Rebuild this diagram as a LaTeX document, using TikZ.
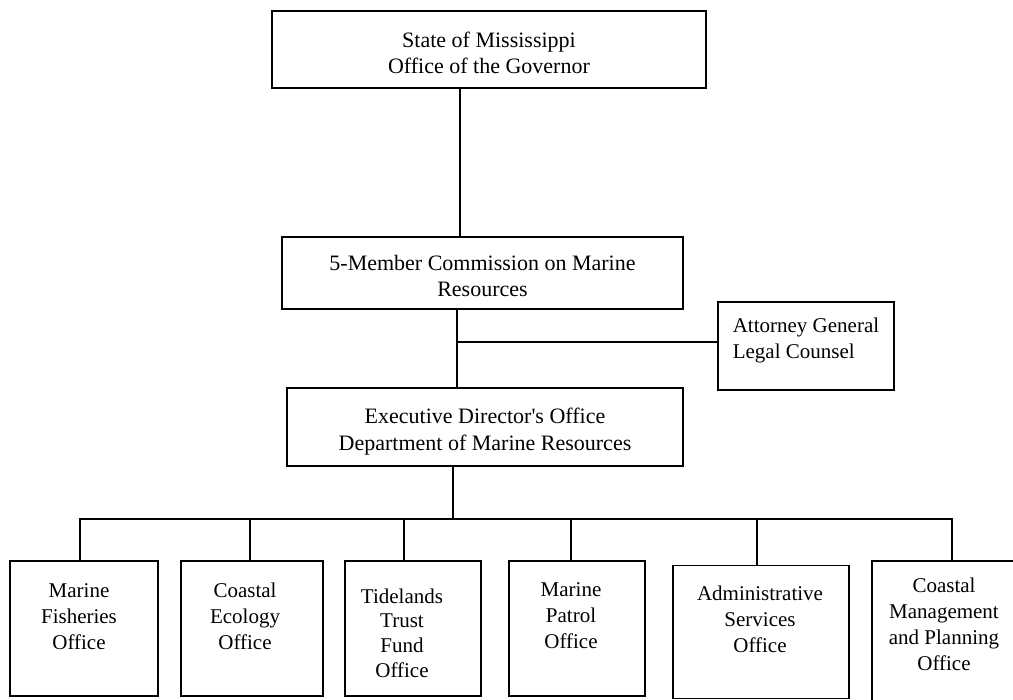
\documentclass[tikz,border=0pt]{standalone}
\usepackage{fontspec}
\setmainfont{Liberation Serif}
\begin{document}
\begin{tikzpicture}[x=1pt,y=-1pt,
  box/.style={draw, line width=1.4pt, inner sep=0pt},
  txt/.style={align=center, font=\fontsize{21}{26}\selectfont, inner sep=0pt},
  bigtxt/.style={txt, font=\fontsize{22}{26}\selectfont},
  conn/.style={line width=1.4pt}]
\clip (0,0) rectangle (1013,700);
\fill[white] (0,0) rectangle (1013,700);
% top levels
\node[box, minimum width=434pt, minimum height=77pt,
  label={[bigtxt, yshift=-3.4pt]center:State of Mississippi\\Office of the Governor}] (gov) at (489,49.5) {};
\node[box, minimum width=401pt, minimum height=72pt,
  label={[bigtxt, yshift=-2.5pt]center:{5-Member Commission on Marine\\Resources}}] (com) at (482.5,273) {};
\node[box, minimum width=176pt, minimum height=88pt,
  label={[txt, align=left, yshift=5.2pt]center:{Attorney General\\Legal Counsel}}] (att) at (806,346) {};
\node[box, minimum width=396pt, minimum height=78pt,
  label={[bigtxt, font=\fontsize{22}{27}\selectfont, yshift=-4.6pt]center:{Executive Director\textquotesingle s Office\\Department of Marine Resources}}] (exec) at (485,427) {};
% offices
\node[box, minimum width=148pt, minimum height=135pt,
  label={[txt, xshift=-5pt, yshift=12.2pt]center:{Marine\\Fisheries\\Office}}] (b1) at (84,628.5) {};
\node[box, minimum width=142pt, minimum height=135pt,
  label={[txt, xshift=-7pt, yshift=12.2pt]center:{Coastal\\Ecology\\Office}}] (b2) at (252,628.5) {};
\node[box, minimum width=136pt, minimum height=135pt,
  label={[txt, font=\fontsize{21}{24.7}\selectfont, xshift=-11pt, yshift=-4.4pt]center:{Tidelands\\Trust\\Fund\\Office}}] (b3) at (413,628.5) {};
\node[box, minimum width=136pt, minimum height=135pt,
  label={[txt, xshift=-6pt, yshift=12.5pt]center:{Marine\\Patrol\\Office}}] (b4) at (577,628.5) {};
\node[box, minimum width=176pt, minimum height=133pt,
  label={[txt, xshift=-1pt, yshift=12.3pt]center:{Administrative\\Services\\Office}}] (b5) at (761,632) {};
\node[box, minimum width=144pt, minimum height=144pt,
  label={[txt, yshift=8.5pt]center:{Coastal\\Management\\and Planning\\Office}}] (b6) at (944,633) {};
% connector coordinates
\coordinate (g) at (460,0);
\coordinate (c) at (457,0);
\coordinate (br) at (457,342);
\coordinate (e) at (453,519);
\coordinate (d1) at (80,519);
\coordinate (d2) at (250,519);
\coordinate (d3) at (404,519);
\coordinate (d4) at (571,519);
\coordinate (d5) at (757,519);
\coordinate (d6) at (952,519);
% connectors
\draw[conn] (gov.south -| g) -- (com.north -| g);
\draw[conn] (com.south -| c) -- (exec.north -| c);
\draw[conn] (br) -- (att.west |- br);
\draw[conn] (exec.south -| e) -- (e);
\draw[conn] (b1.north -| d1) -- (d1) -- (d6) -- (b6.north -| d6);
\draw[conn] (d2) -- (b2.north -| d2);
\draw[conn] (d3) -- (b3.north -| d3);
\draw[conn] (d4) -- (b4.north -| d4);
\draw[conn] (d5) -- (b5.north -| d5);
\end{tikzpicture}
\end{document}
